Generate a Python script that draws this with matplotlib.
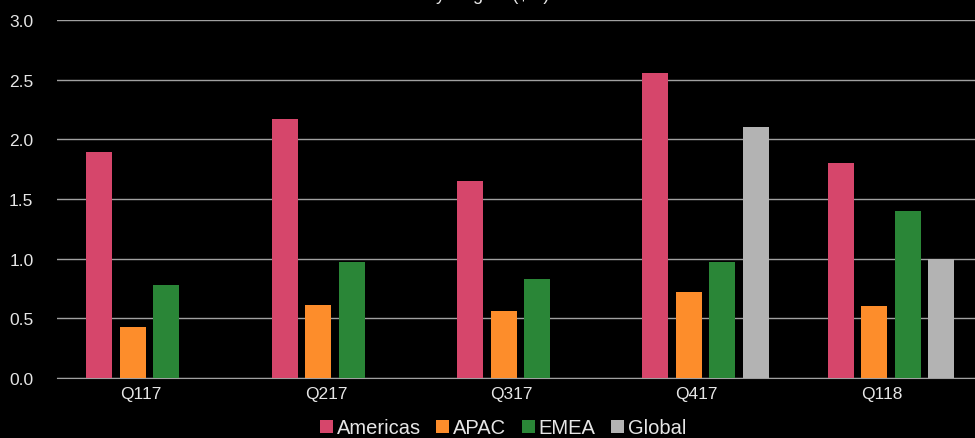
import numpy as np
import matplotlib.pyplot as plt
import matplotlib.transforms as mtransforms

quarters = ['Q117', 'Q217', 'Q317', 'Q417', 'Q118']
americas = [1.89, 2.17, 1.65, 2.56, 1.80]
apac = [0.43, 0.61, 0.56, 0.72, 0.60]
emea = [0.78, 0.97, 0.83, 0.97, 1.40]
global_ = [0, 0, 0, 2.10, 1.00]

series = [('Americas', americas, '#d6466b'),
          ('APAC', apac, '#fd8d2b'),
          ('EMEA', emea, '#2a8637'),
          ('Global', global_, '#b3b3b3')]

plt.rcParams['font.family'] = ['Liberation Sans', 'DejaVu Sans']

fig = plt.figure(figsize=(9.75, 4.39), dpi=100, facecolor='black')
ax = fig.add_axes([57 / 975, 60 / 439, 926.6 / 975, 358 / 439])
ax.set_facecolor('black')

x = np.arange(len(quarters))
pitch = 0.181
width = 0.14
for i, (name, vals, color) in enumerate(series):
    ax.bar(x + (i - 1.5) * pitch, vals, width, color=color, label=name, zorder=3)

ax.set_xlim(-0.5, 4.5)
ax.set_ylim(0, 3.0)
ax.set_yticks(np.arange(0, 3.01, 0.5))
ax.set_yticklabels([f'{v:.1f}' for v in np.arange(0, 3.01, 0.5)])
ax.set_xticks(x)
ax.set_xticklabels(quarters)
ax.tick_params(axis='both', length=0, colors='#e6e6e6', labelsize=12.5)
ax.tick_params(axis='y', pad=17)
ax.tick_params(axis='x', pad=6)

# shift category labels a little to the left, like the original
offset = mtransforms.ScaledTranslation(-9 / 100, 0, fig.dpi_scale_trans)
for lbl in ax.get_xticklabels():
    lbl.set_transform(lbl.get_transform() + offset)

ax.grid(axis='y', color='#a0a0a0', linewidth=1, zorder=0)
for s in ['top', 'right', 'left']:
    ax.spines[s].set_visible(False)
ax.spines['bottom'].set_color('#a0a0a0')

# title sits mostly above the canvas, only its descenders show
fig.text(0.5, 1.0 - 0.5 / 439, 'by Region ($M)', ha='center', va='baseline',
         color='#e6e6e6', fontsize=13)

leg = fig.legend(loc='lower center', bbox_to_anchor=(503 / 975, -0.04), ncol=4,
                 frameon=False, fontsize=14.5, handlelength=0.65, handleheight=0.65,
                 handletextpad=0.2, columnspacing=0.75)
for t in leg.get_texts():
    t.set_color('#e6e6e6')

fig.savefig('out.png', dpi=100, facecolor='black')
